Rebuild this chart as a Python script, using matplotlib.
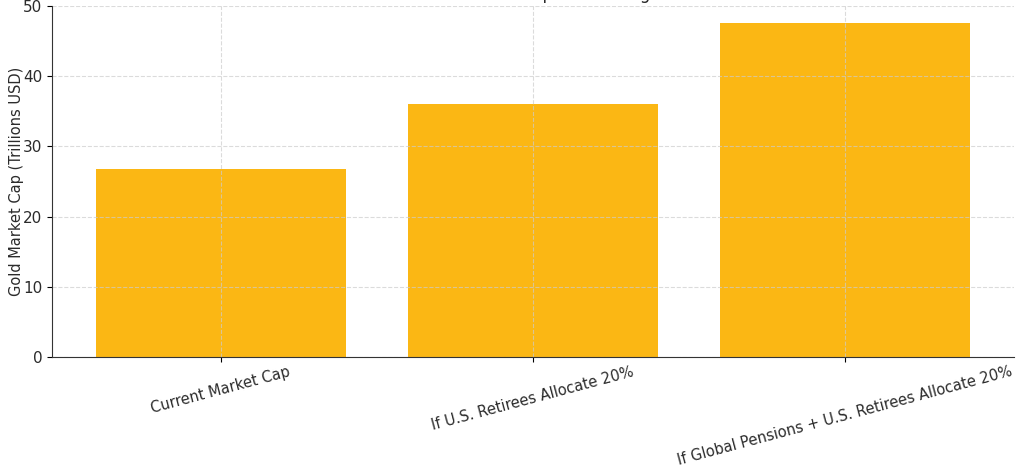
import matplotlib
matplotlib.use("Agg")
import matplotlib.pyplot as plt

categories = ["Current Market Cap",
              "If U.S. Retirees Allocate 20%",
              "If Global Pensions + U.S. Retirees Allocate 20%"]
values = [26.8, 36.0, 47.6]
yticks = [0, 10, 20, 30, 40, 50]
title = "Potential Total Gold Market Cap Under Large Allocations"

plt.rcParams['font.family'] = ['DejaVu Sans']
text_color = '#2b2b2b'

fig = plt.figure(figsize=(10.24, 4.69), dpi=100)
ax = fig.add_axes([52/1024, (469-357)/469, (1014-52)/1024, (357-6)/469])

ax.bar(range(len(categories)), values, color='#FBB714', width=0.8)
ax.set_ylim(0, 50)
ax.set_yticks(yticks)
ax.set_xticks(range(len(categories)))
ax.set_xticklabels(categories, rotation=15, fontsize=10.5, color=text_color)
ax.tick_params(axis='y', labelsize=11, labelcolor=text_color)
ax.tick_params(axis='x', pad=1.5)
ax.set_ylabel("Gold Market Cap (Trillions USD)", fontsize=10.5, color=text_color,
              labelpad=-0.5)
ax.grid(True, linestyle='--', color='#cccccc', alpha=0.7, linewidth=0.8)
ax.spines['top'].set_visible(False)
ax.spines['right'].set_visible(False)
for s in ['left', 'bottom']:
    ax.spines[s].set_color('#333333')

fig.text(0.512, 1.0 + 1/469, title, ha='center', va='baseline',
         fontsize=12, color=text_color)

fig.savefig("out.png", dpi=100)
